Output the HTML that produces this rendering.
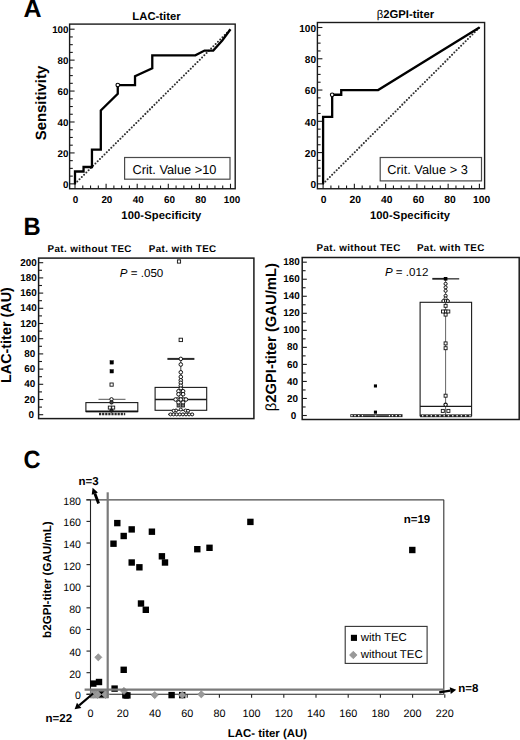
<!DOCTYPE html>
<html><head><meta charset="utf-8"><style>
html,body{margin:0;padding:0;background:#fff;width:520px;height:740px;overflow:hidden;}
svg{display:block;font-family:"Liberation Sans", sans-serif;text-rendering:geometricPrecision;}
</style></head><body>
<svg width="520" height="740" viewBox="0 0 520 740" font-family='"Liberation Sans", sans-serif'>
<rect width="520" height="740" fill="#fff"/>
<text transform="translate(23.6,17.3)" font-size="25" font-weight="bold">A</text>
<text transform="translate(23.5,234.6) scale(0.95,1)" font-size="25" font-weight="bold">B</text>
<text transform="translate(23.4,468.4) scale(0.94,1)" font-size="25" font-weight="bold">C</text>
<line x1="75.00" y1="183.85" x2="230.50" y2="29.20" stroke="#2e2e2e" stroke-width="2.05" stroke-linecap="round" stroke-dasharray="0 3.2"/>
<line x1="69.60" y1="183.85" x2="74.60" y2="183.85" stroke="#1a1a1a" stroke-width="1.1" />
<line x1="75.00" y1="188.75" x2="75.00" y2="183.75" stroke="#1a1a1a" stroke-width="1.1" />
<line x1="69.60" y1="176.12" x2="72.80" y2="176.12" stroke="#1a1a1a" stroke-width="1.1" />
<line x1="82.78" y1="188.75" x2="82.78" y2="185.55" stroke="#1a1a1a" stroke-width="1.1" />
<line x1="69.60" y1="168.38" x2="72.80" y2="168.38" stroke="#1a1a1a" stroke-width="1.1" />
<line x1="90.55" y1="188.75" x2="90.55" y2="185.55" stroke="#1a1a1a" stroke-width="1.1" />
<line x1="69.60" y1="160.65" x2="72.80" y2="160.65" stroke="#1a1a1a" stroke-width="1.1" />
<line x1="98.33" y1="188.75" x2="98.33" y2="185.55" stroke="#1a1a1a" stroke-width="1.1" />
<line x1="69.60" y1="152.92" x2="74.60" y2="152.92" stroke="#1a1a1a" stroke-width="1.1" />
<line x1="106.10" y1="188.75" x2="106.10" y2="183.75" stroke="#1a1a1a" stroke-width="1.1" />
<line x1="69.60" y1="145.19" x2="72.80" y2="145.19" stroke="#1a1a1a" stroke-width="1.1" />
<line x1="113.88" y1="188.75" x2="113.88" y2="185.55" stroke="#1a1a1a" stroke-width="1.1" />
<line x1="69.60" y1="137.45" x2="72.80" y2="137.45" stroke="#1a1a1a" stroke-width="1.1" />
<line x1="121.65" y1="188.75" x2="121.65" y2="185.55" stroke="#1a1a1a" stroke-width="1.1" />
<line x1="69.60" y1="129.72" x2="72.80" y2="129.72" stroke="#1a1a1a" stroke-width="1.1" />
<line x1="129.43" y1="188.75" x2="129.43" y2="185.55" stroke="#1a1a1a" stroke-width="1.1" />
<line x1="69.60" y1="121.99" x2="74.60" y2="121.99" stroke="#1a1a1a" stroke-width="1.1" />
<line x1="137.20" y1="188.75" x2="137.20" y2="183.75" stroke="#1a1a1a" stroke-width="1.1" />
<line x1="69.60" y1="114.26" x2="72.80" y2="114.26" stroke="#1a1a1a" stroke-width="1.1" />
<line x1="144.97" y1="188.75" x2="144.97" y2="185.55" stroke="#1a1a1a" stroke-width="1.1" />
<line x1="69.60" y1="106.52" x2="72.80" y2="106.52" stroke="#1a1a1a" stroke-width="1.1" />
<line x1="152.75" y1="188.75" x2="152.75" y2="185.55" stroke="#1a1a1a" stroke-width="1.1" />
<line x1="69.60" y1="98.79" x2="72.80" y2="98.79" stroke="#1a1a1a" stroke-width="1.1" />
<line x1="160.53" y1="188.75" x2="160.53" y2="185.55" stroke="#1a1a1a" stroke-width="1.1" />
<line x1="69.60" y1="91.06" x2="74.60" y2="91.06" stroke="#1a1a1a" stroke-width="1.1" />
<line x1="168.30" y1="188.75" x2="168.30" y2="183.75" stroke="#1a1a1a" stroke-width="1.1" />
<line x1="69.60" y1="83.33" x2="72.80" y2="83.33" stroke="#1a1a1a" stroke-width="1.1" />
<line x1="176.07" y1="188.75" x2="176.07" y2="185.55" stroke="#1a1a1a" stroke-width="1.1" />
<line x1="69.60" y1="75.59" x2="72.80" y2="75.59" stroke="#1a1a1a" stroke-width="1.1" />
<line x1="183.85" y1="188.75" x2="183.85" y2="185.55" stroke="#1a1a1a" stroke-width="1.1" />
<line x1="69.60" y1="67.86" x2="72.80" y2="67.86" stroke="#1a1a1a" stroke-width="1.1" />
<line x1="191.62" y1="188.75" x2="191.62" y2="185.55" stroke="#1a1a1a" stroke-width="1.1" />
<line x1="69.60" y1="60.13" x2="74.60" y2="60.13" stroke="#1a1a1a" stroke-width="1.1" />
<line x1="199.40" y1="188.75" x2="199.40" y2="183.75" stroke="#1a1a1a" stroke-width="1.1" />
<line x1="69.60" y1="52.40" x2="72.80" y2="52.40" stroke="#1a1a1a" stroke-width="1.1" />
<line x1="207.18" y1="188.75" x2="207.18" y2="185.55" stroke="#1a1a1a" stroke-width="1.1" />
<line x1="69.60" y1="44.66" x2="72.80" y2="44.66" stroke="#1a1a1a" stroke-width="1.1" />
<line x1="214.95" y1="188.75" x2="214.95" y2="185.55" stroke="#1a1a1a" stroke-width="1.1" />
<line x1="69.60" y1="36.93" x2="72.80" y2="36.93" stroke="#1a1a1a" stroke-width="1.1" />
<line x1="222.72" y1="188.75" x2="222.72" y2="185.55" stroke="#1a1a1a" stroke-width="1.1" />
<line x1="69.60" y1="29.20" x2="74.60" y2="29.20" stroke="#1a1a1a" stroke-width="1.1" />
<line x1="230.50" y1="188.75" x2="230.50" y2="183.75" stroke="#1a1a1a" stroke-width="1.1" />
<rect x="69.60" y="24.10" width="165.60" height="164.65" fill="none" stroke="#1a1a1a" stroke-width="1.4" />
<path d="M75.00,183.85 L75.00,171.48 L83.55,171.48 L83.55,166.99 L91.95,166.99 L91.95,149.67 L100.81,149.67 L100.81,110.55 L117.76,93.84 L117.76,85.03 L135.02,85.03 L135.02,76.21 L152.28,68.17 L152.28,55.34 L195.36,55.34 L204.53,50.54 L213.24,50.54 L222.26,40.49 L230.50,29.20" fill="none" stroke="#000" stroke-width="2.3" stroke-linejoin="miter" stroke-miterlimit="3"/>
<circle cx="117.76" cy="85.03" r="1.8" fill="#fff" stroke="#000" stroke-width="1.1"/>
<text x="68.50" y="188.05" font-size="9.8" font-weight="bold" text-anchor="end" fill="#000" >0</text>
<text x="75.60" y="203.00" font-size="9.9" font-weight="bold" text-anchor="middle" fill="#000" >0</text>
<text x="68.50" y="157.12" font-size="9.8" font-weight="bold" text-anchor="end" fill="#000" >20</text>
<text x="106.88" y="203.00" font-size="9.9" font-weight="bold" text-anchor="middle" fill="#000" >20</text>
<text x="68.50" y="126.19" font-size="9.8" font-weight="bold" text-anchor="end" fill="#000" >40</text>
<text x="138.16" y="203.00" font-size="9.9" font-weight="bold" text-anchor="middle" fill="#000" >40</text>
<text x="68.50" y="95.26" font-size="9.8" font-weight="bold" text-anchor="end" fill="#000" >60</text>
<text x="169.44" y="203.00" font-size="9.9" font-weight="bold" text-anchor="middle" fill="#000" >60</text>
<text x="68.50" y="64.33" font-size="9.8" font-weight="bold" text-anchor="end" fill="#000" >80</text>
<text x="200.72" y="203.00" font-size="9.9" font-weight="bold" text-anchor="middle" fill="#000" >80</text>
<text x="68.50" y="33.40" font-size="9.8" font-weight="bold" text-anchor="end" fill="#000" >100</text>
<text x="232.00" y="203.00" font-size="9.9" font-weight="bold" text-anchor="middle" fill="#000" >100</text>
<text x="156.50" y="19.50" font-size="11.3" font-weight="bold" text-anchor="middle" fill="#000" >LAC-titer</text>
<text x="161.40" y="219.20" font-size="11.2" font-weight="bold" text-anchor="middle" fill="#000" letter-spacing="0.12">100-Specificity</text>
<rect x="124.60" y="157.50" width="105.40" height="21.70" fill="#fff" stroke="#4a4a4a" stroke-width="1.2" />
<text x="132.40" y="173.65" font-size="12.8" font-weight="normal" text-anchor="start" fill="#000" >Crit. Value &gt;10</text>
<line x1="323.10" y1="183.85" x2="479.40" y2="27.50" stroke="#2e2e2e" stroke-width="2.05" stroke-linecap="round" stroke-dasharray="0 3.2"/>
<line x1="317.40" y1="183.85" x2="322.40" y2="183.85" stroke="#1a1a1a" stroke-width="1.1" />
<line x1="323.10" y1="188.75" x2="323.10" y2="183.75" stroke="#1a1a1a" stroke-width="1.1" />
<line x1="317.40" y1="176.03" x2="320.60" y2="176.03" stroke="#1a1a1a" stroke-width="1.1" />
<line x1="330.92" y1="188.75" x2="330.92" y2="185.55" stroke="#1a1a1a" stroke-width="1.1" />
<line x1="317.40" y1="168.22" x2="320.60" y2="168.22" stroke="#1a1a1a" stroke-width="1.1" />
<line x1="338.73" y1="188.75" x2="338.73" y2="185.55" stroke="#1a1a1a" stroke-width="1.1" />
<line x1="317.40" y1="160.40" x2="320.60" y2="160.40" stroke="#1a1a1a" stroke-width="1.1" />
<line x1="346.55" y1="188.75" x2="346.55" y2="185.55" stroke="#1a1a1a" stroke-width="1.1" />
<line x1="317.40" y1="152.58" x2="322.40" y2="152.58" stroke="#1a1a1a" stroke-width="1.1" />
<line x1="354.36" y1="188.75" x2="354.36" y2="183.75" stroke="#1a1a1a" stroke-width="1.1" />
<line x1="317.40" y1="144.76" x2="320.60" y2="144.76" stroke="#1a1a1a" stroke-width="1.1" />
<line x1="362.18" y1="188.75" x2="362.18" y2="185.55" stroke="#1a1a1a" stroke-width="1.1" />
<line x1="317.40" y1="136.94" x2="320.60" y2="136.94" stroke="#1a1a1a" stroke-width="1.1" />
<line x1="369.99" y1="188.75" x2="369.99" y2="185.55" stroke="#1a1a1a" stroke-width="1.1" />
<line x1="317.40" y1="129.13" x2="320.60" y2="129.13" stroke="#1a1a1a" stroke-width="1.1" />
<line x1="377.81" y1="188.75" x2="377.81" y2="185.55" stroke="#1a1a1a" stroke-width="1.1" />
<line x1="317.40" y1="121.31" x2="322.40" y2="121.31" stroke="#1a1a1a" stroke-width="1.1" />
<line x1="385.62" y1="188.75" x2="385.62" y2="183.75" stroke="#1a1a1a" stroke-width="1.1" />
<line x1="317.40" y1="113.49" x2="320.60" y2="113.49" stroke="#1a1a1a" stroke-width="1.1" />
<line x1="393.44" y1="188.75" x2="393.44" y2="185.55" stroke="#1a1a1a" stroke-width="1.1" />
<line x1="317.40" y1="105.67" x2="320.60" y2="105.67" stroke="#1a1a1a" stroke-width="1.1" />
<line x1="401.25" y1="188.75" x2="401.25" y2="185.55" stroke="#1a1a1a" stroke-width="1.1" />
<line x1="317.40" y1="97.86" x2="320.60" y2="97.86" stroke="#1a1a1a" stroke-width="1.1" />
<line x1="409.06" y1="188.75" x2="409.06" y2="185.55" stroke="#1a1a1a" stroke-width="1.1" />
<line x1="317.40" y1="90.04" x2="322.40" y2="90.04" stroke="#1a1a1a" stroke-width="1.1" />
<line x1="416.88" y1="188.75" x2="416.88" y2="183.75" stroke="#1a1a1a" stroke-width="1.1" />
<line x1="317.40" y1="82.22" x2="320.60" y2="82.22" stroke="#1a1a1a" stroke-width="1.1" />
<line x1="424.69" y1="188.75" x2="424.69" y2="185.55" stroke="#1a1a1a" stroke-width="1.1" />
<line x1="317.40" y1="74.41" x2="320.60" y2="74.41" stroke="#1a1a1a" stroke-width="1.1" />
<line x1="432.51" y1="188.75" x2="432.51" y2="185.55" stroke="#1a1a1a" stroke-width="1.1" />
<line x1="317.40" y1="66.59" x2="320.60" y2="66.59" stroke="#1a1a1a" stroke-width="1.1" />
<line x1="440.32" y1="188.75" x2="440.32" y2="185.55" stroke="#1a1a1a" stroke-width="1.1" />
<line x1="317.40" y1="58.77" x2="322.40" y2="58.77" stroke="#1a1a1a" stroke-width="1.1" />
<line x1="448.14" y1="188.75" x2="448.14" y2="183.75" stroke="#1a1a1a" stroke-width="1.1" />
<line x1="317.40" y1="50.95" x2="320.60" y2="50.95" stroke="#1a1a1a" stroke-width="1.1" />
<line x1="455.95" y1="188.75" x2="455.95" y2="185.55" stroke="#1a1a1a" stroke-width="1.1" />
<line x1="317.40" y1="43.13" x2="320.60" y2="43.13" stroke="#1a1a1a" stroke-width="1.1" />
<line x1="463.77" y1="188.75" x2="463.77" y2="185.55" stroke="#1a1a1a" stroke-width="1.1" />
<line x1="317.40" y1="35.32" x2="320.60" y2="35.32" stroke="#1a1a1a" stroke-width="1.1" />
<line x1="471.58" y1="188.75" x2="471.58" y2="185.55" stroke="#1a1a1a" stroke-width="1.1" />
<line x1="317.40" y1="27.50" x2="322.40" y2="27.50" stroke="#1a1a1a" stroke-width="1.1" />
<line x1="479.40" y1="188.75" x2="479.40" y2="183.75" stroke="#1a1a1a" stroke-width="1.1" />
<rect x="317.40" y="22.50" width="167.20" height="166.25" fill="none" stroke="#1a1a1a" stroke-width="1.4" />
<path d="M323.10,183.85 L323.10,116.78 L332.17,116.78 L332.17,94.73 L341.23,94.73 L341.23,90.04 L378.12,90.04 L479.40,27.50" fill="none" stroke="#000" stroke-width="2.3" stroke-linejoin="miter" stroke-miterlimit="3"/>
<circle cx="332.17" cy="94.73" r="1.8" fill="#fff" stroke="#000" stroke-width="1.1"/>
<text x="316.00" y="188.05" font-size="10.1" font-weight="bold" text-anchor="end" fill="#000" >0</text>
<text x="323.60" y="202.60" font-size="10.3" font-weight="bold" text-anchor="middle" fill="#000" >0</text>
<text x="316.00" y="156.78" font-size="10.1" font-weight="bold" text-anchor="end" fill="#000" >20</text>
<text x="355.20" y="202.60" font-size="10.3" font-weight="bold" text-anchor="middle" fill="#000" >20</text>
<text x="316.00" y="125.51" font-size="10.1" font-weight="bold" text-anchor="end" fill="#000" >40</text>
<text x="386.80" y="202.60" font-size="10.3" font-weight="bold" text-anchor="middle" fill="#000" >40</text>
<text x="316.00" y="94.24" font-size="10.1" font-weight="bold" text-anchor="end" fill="#000" >60</text>
<text x="418.40" y="202.60" font-size="10.3" font-weight="bold" text-anchor="middle" fill="#000" >60</text>
<text x="316.00" y="62.97" font-size="10.1" font-weight="bold" text-anchor="end" fill="#000" >80</text>
<text x="450.00" y="202.60" font-size="10.3" font-weight="bold" text-anchor="middle" fill="#000" >80</text>
<text x="316.00" y="31.70" font-size="10.1" font-weight="bold" text-anchor="end" fill="#000" >100</text>
<text x="481.60" y="202.60" font-size="10.3" font-weight="bold" text-anchor="middle" fill="#000" >100</text>
<text x="405.40" y="17.80" font-size="11.3" font-weight="bold" text-anchor="middle" fill="#000" ><tspan font-weight="normal">β</tspan>2GPI-titer</text>
<text x="410.00" y="219.20" font-size="11.2" font-weight="bold" text-anchor="middle" fill="#000" letter-spacing="0.12">100-Specificity</text>
<rect x="380.20" y="157.50" width="101.30" height="23.40" fill="#fff" stroke="#4a4a4a" stroke-width="1.2" />
<text x="387.30" y="173.65" font-size="12.8" font-weight="normal" text-anchor="start" fill="#000" >Crit. Value &gt; 3</text>
<text transform="translate(45.6,103.0) rotate(-90)" font-size="14.9" font-weight="bold" text-anchor="middle">Sensitivity</text>
<line x1="38.60" y1="414.70" x2="43.20" y2="414.70" stroke="#1a1a1a" stroke-width="1.1" />
<line x1="38.60" y1="407.10" x2="42.00" y2="407.10" stroke="#1a1a1a" stroke-width="1.1" />
<line x1="38.60" y1="399.50" x2="43.20" y2="399.50" stroke="#1a1a1a" stroke-width="1.1" />
<line x1="38.60" y1="391.90" x2="42.00" y2="391.90" stroke="#1a1a1a" stroke-width="1.1" />
<line x1="38.60" y1="384.30" x2="43.20" y2="384.30" stroke="#1a1a1a" stroke-width="1.1" />
<line x1="38.60" y1="376.70" x2="42.00" y2="376.70" stroke="#1a1a1a" stroke-width="1.1" />
<line x1="38.60" y1="369.10" x2="43.20" y2="369.10" stroke="#1a1a1a" stroke-width="1.1" />
<line x1="38.60" y1="361.50" x2="42.00" y2="361.50" stroke="#1a1a1a" stroke-width="1.1" />
<line x1="38.60" y1="353.90" x2="43.20" y2="353.90" stroke="#1a1a1a" stroke-width="1.1" />
<line x1="38.60" y1="346.30" x2="42.00" y2="346.30" stroke="#1a1a1a" stroke-width="1.1" />
<line x1="38.60" y1="338.70" x2="43.20" y2="338.70" stroke="#1a1a1a" stroke-width="1.1" />
<line x1="38.60" y1="331.10" x2="42.00" y2="331.10" stroke="#1a1a1a" stroke-width="1.1" />
<line x1="38.60" y1="323.50" x2="43.20" y2="323.50" stroke="#1a1a1a" stroke-width="1.1" />
<line x1="38.60" y1="315.90" x2="42.00" y2="315.90" stroke="#1a1a1a" stroke-width="1.1" />
<line x1="38.60" y1="308.30" x2="43.20" y2="308.30" stroke="#1a1a1a" stroke-width="1.1" />
<line x1="38.60" y1="300.70" x2="42.00" y2="300.70" stroke="#1a1a1a" stroke-width="1.1" />
<line x1="38.60" y1="293.10" x2="43.20" y2="293.10" stroke="#1a1a1a" stroke-width="1.1" />
<line x1="38.60" y1="285.50" x2="42.00" y2="285.50" stroke="#1a1a1a" stroke-width="1.1" />
<line x1="38.60" y1="277.90" x2="43.20" y2="277.90" stroke="#1a1a1a" stroke-width="1.1" />
<line x1="38.60" y1="270.30" x2="42.00" y2="270.30" stroke="#1a1a1a" stroke-width="1.1" />
<line x1="38.60" y1="262.70" x2="43.20" y2="262.70" stroke="#1a1a1a" stroke-width="1.1" />
<text x="31.20" y="417.80" font-size="9.9" font-weight="bold" text-anchor="middle" fill="#000" >0</text>
<text x="29.85" y="402.60" font-size="9.9" font-weight="bold" text-anchor="middle" fill="#000" >20</text>
<text x="29.85" y="387.40" font-size="9.9" font-weight="bold" text-anchor="middle" fill="#000" >40</text>
<text x="29.85" y="372.20" font-size="9.9" font-weight="bold" text-anchor="middle" fill="#000" >60</text>
<text x="29.85" y="357.00" font-size="9.9" font-weight="bold" text-anchor="middle" fill="#000" >80</text>
<text x="28.50" y="341.80" font-size="9.9" font-weight="bold" text-anchor="middle" fill="#000" >100</text>
<text x="28.50" y="326.60" font-size="9.9" font-weight="bold" text-anchor="middle" fill="#000" >120</text>
<text x="28.50" y="311.40" font-size="9.9" font-weight="bold" text-anchor="middle" fill="#000" >140</text>
<text x="28.50" y="296.20" font-size="9.9" font-weight="bold" text-anchor="middle" fill="#000" >160</text>
<text x="28.50" y="281.00" font-size="9.9" font-weight="bold" text-anchor="middle" fill="#000" >180</text>
<text x="28.50" y="265.80" font-size="9.9" font-weight="bold" text-anchor="middle" fill="#000" >200</text>
<rect x="38.60" y="258.10" width="215.30" height="160.50" fill="none" stroke="#1a1a1a" stroke-width="1.5" />
<text x="89.70" y="251.90" font-size="9.8" font-weight="bold" text-anchor="middle" fill="#000" letter-spacing="0.4">Pat. without TEC</text>
<text x="182.70" y="251.90" font-size="9.8" font-weight="bold" text-anchor="middle" fill="#000" letter-spacing="0.4">Pat. with TEC</text>
<text x="119.8" y="276.6" font-size="11.6"><tspan font-style="italic">P</tspan> = .050</text>
<line x1="98.50" y1="399.30" x2="125.50" y2="399.30" stroke="#555" stroke-width="1.0" />
<line x1="111.50" y1="399.30" x2="111.50" y2="402.60" stroke="#333" stroke-width="1.0" />
<rect x="85.90" y="402.60" width="51.90" height="9.00" fill="#fff" stroke="#1a1a1a" stroke-width="1.1" />
<line x1="85.90" y1="411.30" x2="137.80" y2="411.30" stroke="#111" stroke-width="1.8" />
<rect x="110.00" y="360.70" width="3.40" height="3.40" fill="#000" stroke="#000" stroke-width="0.5" />
<rect x="110.00" y="369.60" width="3.40" height="3.40" fill="#000" stroke="#000" stroke-width="0.5" />
<rect x="110.00" y="383.00" width="3.20" height="3.20" fill="#fff" stroke="#111" stroke-width="0.9" />
<circle cx="111.50" cy="399.30" r="1.7" fill="#fff" stroke="#111" stroke-width="1.0"/>
<circle cx="111.50" cy="402.40" r="1.7" fill="#444" stroke="#111" stroke-width="1.0"/>
<rect x="108.30" y="406.10" width="3.00" height="3.00" fill="#fff" stroke="#111" stroke-width="0.9" />
<rect x="111.70" y="406.10" width="3.00" height="3.00" fill="#fff" stroke="#111" stroke-width="0.9" />
<circle cx="111.50" cy="410.60" r="1.6" fill="#222" stroke="#111" stroke-width="1.0"/>
<line x1="99.00" y1="414.00" x2="125.20" y2="414.00" stroke="#2a2a2a" stroke-width="2.4" stroke-dasharray="2.2 0.9"/>
<line x1="180.80" y1="358.90" x2="180.80" y2="387.40" stroke="#444" stroke-width="1.0" />
<rect x="155.10" y="387.40" width="51.60" height="22.90" fill="none" stroke="#1a1a1a" stroke-width="1.1" />
<line x1="155.10" y1="399.50" x2="206.70" y2="399.50" stroke="#1a1a1a" stroke-width="1.3" />
<line x1="167.40" y1="358.90" x2="194.40" y2="358.90" stroke="#2a2a2a" stroke-width="2.0" />
<circle cx="180.80" cy="358.90" r="1.8" fill="#fff" stroke="#111" stroke-width="1.0"/>
<circle cx="180.80" cy="364.50" r="1.8" fill="#fff" stroke="#111" stroke-width="1.0"/>
<circle cx="180.80" cy="372.30" r="1.8" fill="#fff" stroke="#111" stroke-width="1.0"/>
<circle cx="180.80" cy="376.90" r="1.8" fill="#fff" stroke="#111" stroke-width="1.0"/>
<circle cx="180.80" cy="380.30" r="1.8" fill="#fff" stroke="#111" stroke-width="1.0"/>
<circle cx="180.80" cy="382.80" r="1.8" fill="#fff" stroke="#111" stroke-width="1.0"/>
<circle cx="180.80" cy="385.70" r="1.8" fill="#fff" stroke="#111" stroke-width="1.0"/>
<circle cx="180.80" cy="388.70" r="1.8" fill="#fff" stroke="#111" stroke-width="1.0"/>
<circle cx="180.80" cy="391.50" r="1.8" fill="#fff" stroke="#111" stroke-width="1.0"/>
<circle cx="180.80" cy="394.00" r="1.8" fill="#fff" stroke="#111" stroke-width="1.0"/>
<circle cx="180.80" cy="396.50" r="1.8" fill="#fff" stroke="#111" stroke-width="1.0"/>
<circle cx="178.50" cy="391.20" r="1.8" fill="#fff" stroke="#111" stroke-width="1.0"/>
<circle cx="183.10" cy="391.20" r="1.8" fill="#fff" stroke="#111" stroke-width="1.0"/>
<circle cx="178.50" cy="394.20" r="1.8" fill="#fff" stroke="#111" stroke-width="1.0"/>
<circle cx="183.10" cy="394.20" r="1.8" fill="#fff" stroke="#111" stroke-width="1.0"/>
<circle cx="177.50" cy="399.50" r="1.8" fill="#fff" stroke="#111" stroke-width="1.0"/>
<circle cx="184.10" cy="399.50" r="1.8" fill="#fff" stroke="#111" stroke-width="1.0"/>
<circle cx="175.60" cy="399.50" r="1.8" fill="#fff" stroke="#111" stroke-width="1.0"/>
<circle cx="186.00" cy="399.50" r="1.8" fill="#fff" stroke="#111" stroke-width="1.0"/>
<circle cx="178.50" cy="402.50" r="1.8" fill="#fff" stroke="#111" stroke-width="1.0"/>
<circle cx="183.10" cy="402.50" r="1.8" fill="#fff" stroke="#111" stroke-width="1.0"/>
<circle cx="180.80" cy="399.50" r="1.8" fill="#fff" stroke="#111" stroke-width="1.0"/>
<rect x="177.10" y="404.00" width="3.00" height="3.00" fill="#777" stroke="#222" stroke-width="0.9" />
<rect x="181.50" y="404.00" width="3.00" height="3.00" fill="#777" stroke="#222" stroke-width="0.9" />
<circle cx="180.80" cy="409.50" r="1.5" fill="#fff" stroke="#111" stroke-width="1.0"/>
<circle cx="176.00" cy="410.50" r="1.5" fill="#fff" stroke="#111" stroke-width="1.0"/>
<circle cx="185.60" cy="410.50" r="1.5" fill="#fff" stroke="#111" stroke-width="1.0"/>
<circle cx="173.60" cy="410.80" r="1.5" fill="#fff" stroke="#111" stroke-width="1.0"/>
<circle cx="188.00" cy="410.80" r="1.5" fill="#fff" stroke="#111" stroke-width="1.0"/>
<line x1="168.20" y1="414.40" x2="193.80" y2="414.40" stroke="#222" stroke-width="1.4" />
<circle cx="170.50" cy="414.40" r="1.5" fill="#fff" stroke="#111" stroke-width="1.0"/>
<circle cx="173.60" cy="414.40" r="1.5" fill="#fff" stroke="#111" stroke-width="1.0"/>
<circle cx="176.70" cy="414.40" r="1.5" fill="#fff" stroke="#111" stroke-width="1.0"/>
<circle cx="179.80" cy="414.40" r="1.5" fill="#fff" stroke="#111" stroke-width="1.0"/>
<circle cx="182.90" cy="414.40" r="1.5" fill="#fff" stroke="#111" stroke-width="1.0"/>
<circle cx="186.00" cy="414.40" r="1.5" fill="#fff" stroke="#111" stroke-width="1.0"/>
<circle cx="189.10" cy="414.40" r="1.5" fill="#fff" stroke="#111" stroke-width="1.0"/>
<circle cx="192.20" cy="414.40" r="1.5" fill="#fff" stroke="#111" stroke-width="1.0"/>
<rect x="177.40" y="259.90" width="3.20" height="3.20" fill="#fff" stroke="#111" stroke-width="0.9" />
<rect x="179.10" y="338.20" width="3.40" height="3.40" fill="#fff" stroke="#111" stroke-width="0.9" />
<text transform="translate(10.9,335.1) rotate(-90)" font-size="14.4" font-weight="bold" text-anchor="middle">LAC-titer (AU)</text>
<line x1="302.20" y1="415.50" x2="306.80" y2="415.50" stroke="#1a1a1a" stroke-width="1.1" />
<line x1="302.20" y1="406.98" x2="305.60" y2="406.98" stroke="#1a1a1a" stroke-width="1.1" />
<line x1="302.20" y1="398.47" x2="306.80" y2="398.47" stroke="#1a1a1a" stroke-width="1.1" />
<line x1="302.20" y1="389.95" x2="305.60" y2="389.95" stroke="#1a1a1a" stroke-width="1.1" />
<line x1="302.20" y1="381.43" x2="306.80" y2="381.43" stroke="#1a1a1a" stroke-width="1.1" />
<line x1="302.20" y1="372.92" x2="305.60" y2="372.92" stroke="#1a1a1a" stroke-width="1.1" />
<line x1="302.20" y1="364.40" x2="306.80" y2="364.40" stroke="#1a1a1a" stroke-width="1.1" />
<line x1="302.20" y1="355.88" x2="305.60" y2="355.88" stroke="#1a1a1a" stroke-width="1.1" />
<line x1="302.20" y1="347.36" x2="306.80" y2="347.36" stroke="#1a1a1a" stroke-width="1.1" />
<line x1="302.20" y1="338.85" x2="305.60" y2="338.85" stroke="#1a1a1a" stroke-width="1.1" />
<line x1="302.20" y1="330.33" x2="306.80" y2="330.33" stroke="#1a1a1a" stroke-width="1.1" />
<line x1="302.20" y1="321.81" x2="305.60" y2="321.81" stroke="#1a1a1a" stroke-width="1.1" />
<line x1="302.20" y1="313.30" x2="306.80" y2="313.30" stroke="#1a1a1a" stroke-width="1.1" />
<line x1="302.20" y1="304.78" x2="305.60" y2="304.78" stroke="#1a1a1a" stroke-width="1.1" />
<line x1="302.20" y1="296.26" x2="306.80" y2="296.26" stroke="#1a1a1a" stroke-width="1.1" />
<line x1="302.20" y1="287.75" x2="305.60" y2="287.75" stroke="#1a1a1a" stroke-width="1.1" />
<line x1="302.20" y1="279.23" x2="306.80" y2="279.23" stroke="#1a1a1a" stroke-width="1.1" />
<line x1="302.20" y1="270.71" x2="305.60" y2="270.71" stroke="#1a1a1a" stroke-width="1.1" />
<line x1="302.20" y1="262.19" x2="306.80" y2="262.19" stroke="#1a1a1a" stroke-width="1.1" />
<text x="293.60" y="418.60" font-size="9.9" font-weight="bold" text-anchor="middle" fill="#000" >0</text>
<text x="292.55" y="401.57" font-size="9.9" font-weight="bold" text-anchor="middle" fill="#000" >20</text>
<text x="292.55" y="384.53" font-size="9.9" font-weight="bold" text-anchor="middle" fill="#000" >40</text>
<text x="292.55" y="367.50" font-size="9.9" font-weight="bold" text-anchor="middle" fill="#000" >60</text>
<text x="292.55" y="350.46" font-size="9.9" font-weight="bold" text-anchor="middle" fill="#000" >80</text>
<text x="291.50" y="333.43" font-size="9.9" font-weight="bold" text-anchor="middle" fill="#000" >100</text>
<text x="291.50" y="316.40" font-size="9.9" font-weight="bold" text-anchor="middle" fill="#000" >120</text>
<text x="291.50" y="299.36" font-size="9.9" font-weight="bold" text-anchor="middle" fill="#000" >140</text>
<text x="291.50" y="282.33" font-size="9.9" font-weight="bold" text-anchor="middle" fill="#000" >160</text>
<text x="291.50" y="265.29" font-size="9.9" font-weight="bold" text-anchor="middle" fill="#000" >180</text>
<rect x="302.20" y="257.50" width="217.00" height="162.00" fill="none" stroke="#1a1a1a" stroke-width="1.5" />
<text x="358.60" y="250.80" font-size="9.8" font-weight="bold" text-anchor="middle" fill="#000" letter-spacing="0.4">Pat. without TEC</text>
<text x="450.80" y="250.80" font-size="9.8" font-weight="bold" text-anchor="middle" fill="#000" letter-spacing="0.4">Pat. with TEC</text>
<text x="384.9" y="275.8" font-size="11.6"><tspan font-style="italic">P</tspan> = .012</text>
<rect x="350.30" y="414.20" width="52.20" height="2.90" fill="#222" stroke="none" stroke-width="0" />
<rect x="351.20" y="415.00" width="1.40" height="1.30" fill="#fff" stroke="none" stroke-width="0" />
<rect x="354.30" y="415.00" width="1.40" height="1.30" fill="#fff" stroke="none" stroke-width="0" />
<rect x="358.05" y="415.00" width="1.40" height="1.30" fill="#fff" stroke="none" stroke-width="0" />
<rect x="361.80" y="415.00" width="1.40" height="1.30" fill="#fff" stroke="none" stroke-width="0" />
<rect x="374.90" y="415.00" width="1.40" height="1.30" fill="#fff" stroke="none" stroke-width="0" />
<rect x="388.70" y="415.00" width="1.40" height="1.30" fill="#fff" stroke="none" stroke-width="0" />
<rect x="391.80" y="415.00" width="1.40" height="1.30" fill="#fff" stroke="none" stroke-width="0" />
<rect x="395.55" y="415.00" width="1.40" height="1.30" fill="#fff" stroke="none" stroke-width="0" />
<rect x="399.30" y="415.00" width="1.40" height="1.30" fill="#fff" stroke="none" stroke-width="0" />
<line x1="364.00" y1="415.60" x2="388.00" y2="415.60" stroke="#888" stroke-width="0.6" />
<rect x="373.90" y="384.40" width="3.10" height="3.10" fill="#000" stroke="none" stroke-width="0" />
<rect x="373.90" y="410.60" width="3.10" height="3.10" fill="#000" stroke="none" stroke-width="0" />
<line x1="445.60" y1="278.80" x2="445.60" y2="415.80" stroke="#666" stroke-width="1.0" />
<rect x="420.10" y="302.30" width="51.50" height="113.50" fill="none" stroke="#1a1a1a" stroke-width="1.1" />
<line x1="420.10" y1="406.40" x2="471.60" y2="406.40" stroke="#1a1a1a" stroke-width="1.1" />
<line x1="432.30" y1="278.80" x2="445.60" y2="278.80" stroke="#222" stroke-width="1.8" />
<line x1="445.60" y1="278.80" x2="459.20" y2="278.80" stroke="#555" stroke-width="1.6" />
<rect x="443.80" y="277.00" width="3.60" height="3.60" fill="#000" stroke="none" stroke-width="0" />
<ellipse cx="445.6" cy="283.8" rx="1.6" ry="1.5" fill="#fff" stroke="#111" stroke-width="1"/>
<ellipse cx="445.6" cy="287.3" rx="1.6" ry="1.5" fill="#fff" stroke="#111" stroke-width="1"/>
<ellipse cx="445.6" cy="290.8" rx="1.6" ry="1.5" fill="#fff" stroke="#111" stroke-width="1"/>
<ellipse cx="445.6" cy="295.8" rx="1.6" ry="1.5" fill="#fff" stroke="#111" stroke-width="1"/>
<ellipse cx="445.6" cy="298.5" rx="1.6" ry="1.5" fill="#fff" stroke="#111" stroke-width="1"/>
<ellipse cx="445.6" cy="300.8" rx="1.6" ry="1.5" fill="#fff" stroke="#111" stroke-width="1"/>
<circle cx="443.30" cy="301.00" r="1.5" fill="#fff" stroke="#111" stroke-width="1.0"/>
<circle cx="447.90" cy="301.00" r="1.5" fill="#fff" stroke="#111" stroke-width="1.0"/>
<rect x="444.10" y="304.30" width="3.00" height="3.00" fill="#fff" stroke="#111" stroke-width="0.9" />
<rect x="444.10" y="310.00" width="3.00" height="3.00" fill="#fff" stroke="#111" stroke-width="0.9" />
<rect x="444.10" y="313.10" width="3.00" height="3.00" fill="#fff" stroke="#111" stroke-width="0.9" />
<rect x="444.10" y="341.90" width="3.00" height="3.00" fill="#fff" stroke="#111" stroke-width="0.9" />
<rect x="444.10" y="346.70" width="3.00" height="3.00" fill="#fff" stroke="#111" stroke-width="0.9" />
<rect x="444.10" y="394.20" width="3.00" height="3.00" fill="#fff" stroke="#111" stroke-width="0.9" />
<rect x="441.50" y="310.00" width="3.00" height="3.00" fill="#fff" stroke="#111" stroke-width="0.9" />
<rect x="446.80" y="310.00" width="3.00" height="3.00" fill="#fff" stroke="#111" stroke-width="0.9" />
<circle cx="445.60" cy="404.80" r="1.7" fill="#fff" stroke="#111" stroke-width="1.1"/>
<rect x="441.30" y="409.40" width="3.00" height="3.00" fill="#fff" stroke="#111" stroke-width="0.9" />
<rect x="446.90" y="409.40" width="3.00" height="3.00" fill="#fff" stroke="#111" stroke-width="0.9" />
<rect x="420.10" y="414.40" width="51.50" height="2.80" fill="#222" stroke="none" stroke-width="0" />
<rect x="422.00" y="415.10" width="1.40" height="1.30" fill="#fff" stroke="none" stroke-width="0" />
<rect x="426.30" y="415.10" width="1.40" height="1.30" fill="#fff" stroke="none" stroke-width="0" />
<rect x="430.60" y="415.10" width="1.40" height="1.30" fill="#fff" stroke="none" stroke-width="0" />
<rect x="434.90" y="415.10" width="1.40" height="1.30" fill="#fff" stroke="none" stroke-width="0" />
<rect x="439.20" y="415.10" width="1.40" height="1.30" fill="#fff" stroke="none" stroke-width="0" />
<rect x="443.50" y="415.10" width="1.40" height="1.30" fill="#fff" stroke="none" stroke-width="0" />
<rect x="447.80" y="415.10" width="1.40" height="1.30" fill="#fff" stroke="none" stroke-width="0" />
<rect x="452.10" y="415.10" width="1.40" height="1.30" fill="#fff" stroke="none" stroke-width="0" />
<rect x="456.40" y="415.10" width="1.40" height="1.30" fill="#fff" stroke="none" stroke-width="0" />
<rect x="460.70" y="415.10" width="1.40" height="1.30" fill="#fff" stroke="none" stroke-width="0" />
<rect x="465.00" y="415.10" width="1.40" height="1.30" fill="#fff" stroke="none" stroke-width="0" />
<rect x="469.30" y="415.10" width="1.40" height="1.30" fill="#fff" stroke="none" stroke-width="0" />
<text transform="translate(276.2,337.2) rotate(-90)" font-size="14.8" font-weight="bold" text-anchor="middle"><tspan font-weight="normal">β</tspan>2GPI-titer (GAU/mL)</text>
<line x1="86.30" y1="499.80" x2="443.80" y2="499.80" stroke="#4a4a4a" stroke-width="1.3" />
<line x1="443.80" y1="499.80" x2="443.80" y2="694.30" stroke="#333" stroke-width="1.1" />
<line x1="90.50" y1="499.80" x2="90.50" y2="694.30" stroke="#222" stroke-width="1.1" />
<line x1="86.50" y1="694.30" x2="443.80" y2="694.30" stroke="#222" stroke-width="1.1" />
<line x1="86.50" y1="694.30" x2="90.50" y2="694.30" stroke="#222" stroke-width="1.1" />
<text x="81.00" y="699.30" font-size="10.6" font-weight="normal" text-anchor="end" fill="#000" >0</text>
<line x1="86.50" y1="672.69" x2="90.50" y2="672.69" stroke="#222" stroke-width="1.1" />
<text x="81.00" y="677.69" font-size="10.6" font-weight="normal" text-anchor="end" fill="#000" >20</text>
<line x1="86.50" y1="651.08" x2="90.50" y2="651.08" stroke="#222" stroke-width="1.1" />
<text x="81.00" y="656.08" font-size="10.6" font-weight="normal" text-anchor="end" fill="#000" >40</text>
<line x1="86.50" y1="629.46" x2="90.50" y2="629.46" stroke="#222" stroke-width="1.1" />
<text x="81.00" y="634.46" font-size="10.6" font-weight="normal" text-anchor="end" fill="#000" >60</text>
<line x1="86.50" y1="607.85" x2="90.50" y2="607.85" stroke="#222" stroke-width="1.1" />
<text x="81.00" y="612.85" font-size="10.6" font-weight="normal" text-anchor="end" fill="#000" >80</text>
<line x1="86.50" y1="586.24" x2="90.50" y2="586.24" stroke="#222" stroke-width="1.1" />
<text x="81.00" y="591.24" font-size="10.6" font-weight="normal" text-anchor="end" fill="#000" >100</text>
<line x1="86.50" y1="564.63" x2="90.50" y2="564.63" stroke="#222" stroke-width="1.1" />
<text x="81.00" y="569.63" font-size="10.6" font-weight="normal" text-anchor="end" fill="#000" >120</text>
<line x1="86.50" y1="543.02" x2="90.50" y2="543.02" stroke="#222" stroke-width="1.1" />
<text x="81.00" y="548.02" font-size="10.6" font-weight="normal" text-anchor="end" fill="#000" >140</text>
<line x1="86.50" y1="521.40" x2="90.50" y2="521.40" stroke="#222" stroke-width="1.1" />
<text x="81.00" y="526.40" font-size="10.6" font-weight="normal" text-anchor="end" fill="#000" >160</text>
<line x1="86.50" y1="499.79" x2="90.50" y2="499.79" stroke="#222" stroke-width="1.1" />
<text x="81.00" y="504.79" font-size="10.6" font-weight="normal" text-anchor="end" fill="#000" >180</text>
<line x1="90.60" y1="694.30" x2="90.60" y2="697.80" stroke="#222" stroke-width="1.1" />
<text x="90.60" y="716.90" font-size="10.8" font-weight="normal" text-anchor="middle" fill="#000" >0</text>
<line x1="122.80" y1="694.30" x2="122.80" y2="697.80" stroke="#222" stroke-width="1.1" />
<text x="122.80" y="716.90" font-size="10.8" font-weight="normal" text-anchor="middle" fill="#000" >20</text>
<line x1="155.00" y1="694.30" x2="155.00" y2="697.80" stroke="#222" stroke-width="1.1" />
<text x="155.00" y="716.90" font-size="10.8" font-weight="normal" text-anchor="middle" fill="#000" >40</text>
<line x1="187.20" y1="694.30" x2="187.20" y2="697.80" stroke="#222" stroke-width="1.1" />
<text x="187.20" y="716.90" font-size="10.8" font-weight="normal" text-anchor="middle" fill="#000" >60</text>
<line x1="219.40" y1="694.30" x2="219.40" y2="697.80" stroke="#222" stroke-width="1.1" />
<text x="219.40" y="716.90" font-size="10.8" font-weight="normal" text-anchor="middle" fill="#000" >80</text>
<line x1="251.60" y1="694.30" x2="251.60" y2="697.80" stroke="#222" stroke-width="1.1" />
<text x="251.60" y="716.90" font-size="10.8" font-weight="normal" text-anchor="middle" fill="#000" >100</text>
<line x1="283.80" y1="694.30" x2="283.80" y2="697.80" stroke="#222" stroke-width="1.1" />
<text x="283.80" y="716.90" font-size="10.8" font-weight="normal" text-anchor="middle" fill="#000" >120</text>
<line x1="316.00" y1="694.30" x2="316.00" y2="697.80" stroke="#222" stroke-width="1.1" />
<text x="316.00" y="716.90" font-size="10.8" font-weight="normal" text-anchor="middle" fill="#000" >140</text>
<line x1="348.20" y1="694.30" x2="348.20" y2="697.80" stroke="#222" stroke-width="1.1" />
<text x="348.20" y="716.90" font-size="10.8" font-weight="normal" text-anchor="middle" fill="#000" >160</text>
<line x1="380.40" y1="694.30" x2="380.40" y2="697.80" stroke="#222" stroke-width="1.1" />
<text x="380.40" y="716.90" font-size="10.8" font-weight="normal" text-anchor="middle" fill="#000" >180</text>
<line x1="412.60" y1="694.30" x2="412.60" y2="697.80" stroke="#222" stroke-width="1.1" />
<text x="412.60" y="716.90" font-size="10.8" font-weight="normal" text-anchor="middle" fill="#000" >200</text>
<line x1="444.80" y1="694.30" x2="444.80" y2="697.80" stroke="#222" stroke-width="1.1" />
<text x="444.80" y="716.90" font-size="10.8" font-weight="normal" text-anchor="middle" fill="#000" >220</text>
<rect x="114.10" y="519.90" width="6.40" height="6.40" fill="#000" stroke="none" stroke-width="0" />
<rect x="128.50" y="526.20" width="6.40" height="6.40" fill="#000" stroke="none" stroke-width="0" />
<rect x="120.50" y="532.80" width="6.40" height="6.40" fill="#000" stroke="none" stroke-width="0" />
<rect x="110.30" y="540.50" width="6.40" height="6.40" fill="#000" stroke="none" stroke-width="0" />
<rect x="148.70" y="528.50" width="6.40" height="6.40" fill="#000" stroke="none" stroke-width="0" />
<rect x="194.10" y="546.00" width="6.40" height="6.40" fill="#000" stroke="none" stroke-width="0" />
<rect x="158.70" y="553.10" width="6.40" height="6.40" fill="#000" stroke="none" stroke-width="0" />
<rect x="161.80" y="559.30" width="6.40" height="6.40" fill="#000" stroke="none" stroke-width="0" />
<rect x="128.50" y="559.30" width="6.40" height="6.40" fill="#000" stroke="none" stroke-width="0" />
<rect x="136.20" y="564.10" width="6.40" height="6.40" fill="#000" stroke="none" stroke-width="0" />
<rect x="137.80" y="600.30" width="6.40" height="6.40" fill="#000" stroke="none" stroke-width="0" />
<rect x="142.60" y="606.60" width="6.40" height="6.40" fill="#000" stroke="none" stroke-width="0" />
<rect x="120.50" y="666.60" width="6.40" height="6.40" fill="#000" stroke="none" stroke-width="0" />
<rect x="206.30" y="544.60" width="6.40" height="6.40" fill="#000" stroke="none" stroke-width="0" />
<rect x="247.20" y="518.70" width="6.40" height="6.40" fill="#000" stroke="none" stroke-width="0" />
<rect x="409.10" y="546.80" width="6.40" height="6.40" fill="#000" stroke="none" stroke-width="0" />
<rect x="90.10" y="680.40" width="6.40" height="6.40" fill="#000" stroke="none" stroke-width="0" />
<rect x="95.80" y="678.80" width="6.40" height="6.40" fill="#000" stroke="none" stroke-width="0" />
<rect x="111.40" y="685.40" width="6.40" height="6.40" fill="#000" stroke="none" stroke-width="0" />
<rect x="124.20" y="692.20" width="6.40" height="6.40" fill="#000" stroke="none" stroke-width="0" />
<rect x="122.40" y="692.20" width="6.40" height="6.40" fill="#000" stroke="none" stroke-width="0" />
<rect x="168.40" y="691.90" width="6.40" height="6.40" fill="#000" stroke="none" stroke-width="0" />
<rect x="179.00" y="691.90" width="6.40" height="6.40" fill="#000" stroke="none" stroke-width="0" />
<rect x="90.20" y="690.00" width="18.40" height="8.40" fill="#959595" stroke="none" stroke-width="0" />
<rect x="98.50" y="691.50" width="6.00" height="6.00" fill="#000" stroke="none" stroke-width="0" />
<path d="M98.30,653.70 L101.90,657.30 L98.30,660.90 L94.70,657.30 Z" fill="#999" stroke="#8a8a8a" stroke-width="0.6"/>
<path d="M124.00,687.30 L127.60,690.90 L124.00,694.50 L120.40,690.90 Z" fill="#999" stroke="#8a8a8a" stroke-width="0.6"/>
<path d="M154.70,691.50 L158.30,695.10 L154.70,698.70 L151.10,695.10 Z" fill="#999" stroke="#8a8a8a" stroke-width="0.6"/>
<path d="M182.20,691.50 L185.80,695.10 L182.20,698.70 L178.60,695.10 Z" fill="#999" stroke="#8a8a8a" stroke-width="0.6"/>
<path d="M201.30,690.70 L204.90,694.30 L201.30,697.90 L197.70,694.30 Z" fill="#999" stroke="#8a8a8a" stroke-width="0.6"/>
<path d="M93.50,690.90 L97.10,694.50 L93.50,698.10 L89.90,694.50 Z" fill="#999" stroke="#8a8a8a" stroke-width="0.6"/>
<path d="M97.50,690.50 L101.50,694.50 L97.50,698.50 L93.50,694.50 Z" fill="#999" stroke="#8a8a8a" stroke-width="0.6"/>
<path d="M105.50,690.50 L109.50,694.50 L105.50,698.50 L101.50,694.50 Z" fill="#999" stroke="#8a8a8a" stroke-width="0.6"/>
<line x1="107.70" y1="492.30" x2="107.70" y2="698.00" stroke="#7a7a7a" stroke-width="2.2" />
<line x1="84.60" y1="689.60" x2="443.80" y2="689.60" stroke="#7a7a7a" stroke-width="2.2" />
<line x1="98.60" y1="503.40" x2="94.83" y2="493.59" stroke="#000" stroke-width="2.9" />
<path d="M92.60,487.80 L97.91,492.40 L91.75,494.77 Z" fill="#000"/>
<line x1="93.10" y1="693.50" x2="79.17" y2="705.32" stroke="#000" stroke-width="2.2" />
<path d="M74.60,709.20 L76.97,702.73 L81.37,707.91 Z" fill="#000"/>
<line x1="439.20" y1="692.30" x2="450.27" y2="690.61" stroke="#000" stroke-width="2.2" />
<path d="M456.20,689.70 L450.78,693.97 L449.75,687.25 Z" fill="#000"/>
<text x="88.50" y="485.20" font-size="11.5" font-weight="bold" text-anchor="middle" fill="#000" >n=3</text>
<text x="58.80" y="721.50" font-size="11.5" font-weight="bold" text-anchor="middle" fill="#000" >n=22</text>
<text x="458.20" y="691.50" font-size="11.5" font-weight="bold" text-anchor="start" fill="#000" >n=8</text>
<text x="417.00" y="522.70" font-size="11.5" font-weight="bold" text-anchor="middle" fill="#000" >n=19</text>
<rect x="345.20" y="626.40" width="81.90" height="37.00" fill="#fff" stroke="#333" stroke-width="1.1" />
<rect x="350.90" y="634.80" width="6.10" height="6.10" fill="#000" stroke="none" stroke-width="0" />
<path d="M353.30,651.20 L357.10,655.00 L353.30,658.80 L349.50,655.00 Z" fill="#999" stroke="#8a8a8a" stroke-width="0.6"/>
<text x="360.80" y="640.50" font-size="11.4" font-weight="normal" text-anchor="start" fill="#000" >with TEC</text>
<text x="360.80" y="658.30" font-size="11.4" font-weight="normal" text-anchor="start" fill="#000" >without TEC</text>
<text transform="translate(51.4,579.6) rotate(-90)" font-size="11.6" font-weight="bold" text-anchor="middle">b2GPI-titer (GAU/mL)</text>
<text x="267.40" y="737.30" font-size="11.4" font-weight="bold" text-anchor="middle" fill="#000" >LAC- titer (AU)</text>
</svg>
</body></html>
